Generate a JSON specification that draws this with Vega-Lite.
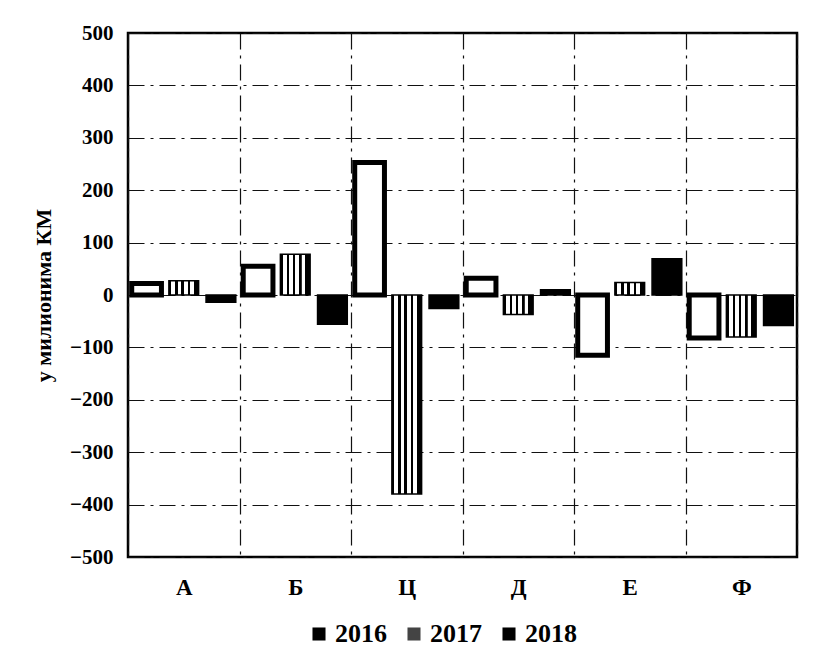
{
  "$schema": "https://vega.github.io/schema/vega-lite/v6.json",
  "width": 669,
  "height": 524,
  "autosize": "none",
  "padding": {"left": 128, "top": 33, "right": 21, "bottom": 106},
  "background": "white",
  "config": {
    "view": {"stroke": "black", "strokeWidth": 2.5},
    "font": "Liberation Serif"
  },
  "data": {
    "values": [
      {"kategorija": "А", "godina": "2016", "vrijednost": 22},
      {"kategorija": "А", "godina": "2017", "vrijednost": 27},
      {"kategorija": "А", "godina": "2018", "vrijednost": -14},
      {"kategorija": "Б", "godina": "2016", "vrijednost": 55},
      {"kategorija": "Б", "godina": "2017", "vrijednost": 78},
      {"kategorija": "Б", "godina": "2018", "vrijednost": -56},
      {"kategorija": "Ц", "godina": "2016", "vrijednost": 253},
      {"kategorija": "Ц", "godina": "2017", "vrijednost": -380},
      {"kategorija": "Ц", "godina": "2018", "vrijednost": -26},
      {"kategorija": "Д", "godina": "2016", "vrijednost": 32},
      {"kategorija": "Д", "godina": "2017", "vrijednost": -37},
      {"kategorija": "Д", "godina": "2018", "vrijednost": 10},
      {"kategorija": "Е", "godina": "2016", "vrijednost": -115},
      {"kategorija": "Е", "godina": "2017", "vrijednost": 24},
      {"kategorija": "Е", "godina": "2018", "vrijednost": 69},
      {"kategorija": "Ф", "godina": "2016", "vrijednost": -82},
      {"kategorija": "Ф", "godina": "2017", "vrijednost": -80},
      {"kategorija": "Ф", "godina": "2018", "vrijednost": -58}
    ]
  },
  "mark": {"type": "bar", "stroke": "black"},
  "encoding": {
    "x": {
      "field": "kategorija",
      "type": "nominal",
      "sort": ["А", "Б", "Ц", "Д", "Е", "Ф"],
      "scale": {"paddingInner": 0, "paddingOuter": 0},
      "axis": {
        "title": null,
        "labelAngle": 0,
        "labelFont": "Liberation Serif",
        "labelFontWeight": "bold",
        "labelFontSize": 23,
        "labelColor": "black",
        "labelPadding": 19,
        "ticks": false,
        "domain": false,
        "grid": true,
        "tickBand": "extent",
        "gridColor": "#111",
        "gridWidth": 1.2,
        "gridDash": [16, 6, 3, 6]
      }
    },
    "xOffset": {
      "field": "godina",
      "type": "nominal",
      "scale": {"domain": ["2016", "2017", "2018"], "paddingInner": 0.2, "paddingOuter": 0.1}
    },
    "y": {
      "field": "vrijednost",
      "type": "quantitative",
      "scale": {"domain": [-500, 500], "nice": false},
      "axis": {
        "title": "у милионима КМ",
        "titleFont": "Liberation Serif",
        "titleFontSize": 22,
        "titleFontWeight": "bold",
        "titleColor": "black",
        "titlePadding": 14,
        "values": [-500, -400, -300, -200, -100, 0, 100, 200, 300, 400, 500],
        "labelFont": "Liberation Serif",
        "labelFontWeight": "bold",
        "labelFontSize": 21,
        "labelColor": "black",
        "labelPadding": 15,
        "ticks": false,
        "domain": false,
        "grid": true,
        "gridColor": "#111",
        "gridWidth": 1.2,
        "gridDash": [16, 6, 3, 6]
      }
    },
    "fill": {
      "condition": [
        {"test": "datum.godina == '2016'", "value": "white"},
        {
          "test": "datum.godina == '2017'",
          "value": {
            "gradient": "linear",
            "x1": 0, "y1": 0, "x2": 1, "y2": 0,
            "stops": [
              {"offset": 0, "color": "black"},
              {"offset": 0.08, "color": "black"},
              {"offset": 0.081, "color": "white"},
              {"offset": 0.21, "color": "white"},
              {"offset": 0.211, "color": "black"},
              {"offset": 0.29, "color": "black"},
              {"offset": 0.291, "color": "white"},
              {"offset": 0.42, "color": "white"},
              {"offset": 0.421, "color": "black"},
              {"offset": 0.5, "color": "black"},
              {"offset": 0.501, "color": "white"},
              {"offset": 0.63, "color": "white"},
              {"offset": 0.631, "color": "black"},
              {"offset": 0.71, "color": "black"},
              {"offset": 0.711, "color": "white"},
              {"offset": 0.84, "color": "white"},
              {"offset": 0.841, "color": "black"},
              {"offset": 1, "color": "black"}
            ]
          }
        }
      ],
      "field": "godina",
      "type": "nominal",
      "scale": {"domain": ["2016", "2017", "2018"], "range": ["black", "#444444", "black"]},
      "legend": {
        "title": null,
        "orient": "none",
        "direction": "horizontal",
        "legendX": 178,
        "legendY": 588,
        "symbolType": "square",
        "symbolSize": 170,
        "symbolStrokeWidth": 0,
        "symbolOpacity": 1,
        "labelFont": "Liberation Serif",
        "labelFontWeight": "bold",
        "labelFontSize": 26,
        "labelColor": "black",
        "labelOffset": 3,
        "columnPadding": 14
      }
    },
    "strokeWidth": {
      "condition": {"test": "datum.godina == '2016'", "value": 5},
      "value": 1.5
    }
  }
}
